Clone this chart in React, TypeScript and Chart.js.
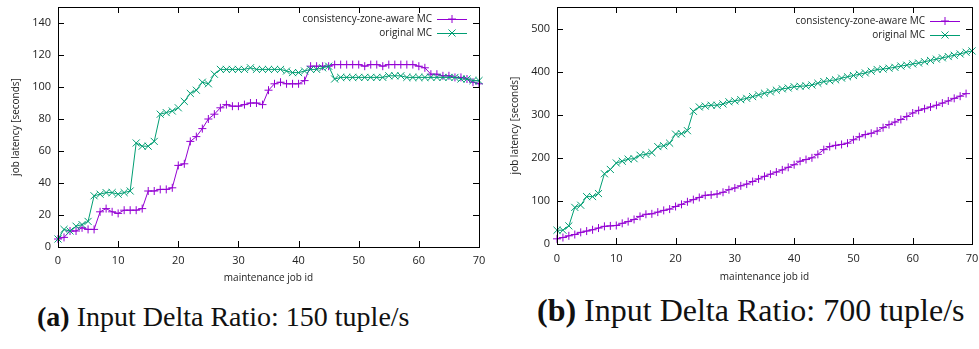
import React, { useEffect, useRef } from "react";
import { Chart, registerables } from "chart.js";

Chart.register(...registerables);

// ---------- data ----------
const X_TICKS = [0, 10, 20, 30, 40, 50, 60, 70];
const Y_TICKS_A = [0, 20, 40, 60, 80, 100, 120, 140];
const Y_TICKS_B = [0, 100, 200, 300, 400, 500];

const SERIES_NAMES = ["consistency-zone-aware MC", "original MC"];

// (a) Input Delta Ratio: 150 tuple/s
const AWARE_A = [
  5, 6, 10, 10, 12, 11, 11, 22, 24, 22,
  21, 23, 23, 23, 24, 35, 35, 36, 36, 37,
  51, 52, 66, 69, 74, 80, 83, 87, 89, 88,
  88, 89, 90, 90, 89, 98, 102, 103, 102, 102,
  102, 104, 113, 113, 113, 113, 114, 114, 114, 114,
  114, 113, 114, 114, 113, 114, 114, 114, 114, 114,
  113, 112, 108, 108, 107, 107, 106, 106, 105, 103,
  102,
];
const ORIGINAL_A = [
  5, 11, 10, 13, 14, 16, 32, 33, 34, 34,
  33, 34, 35, 65, 63, 63, 66, 83, 84, 85,
  87, 91, 96, 98, 103, 102, 108, 111, 111, 111,
  111, 111, 112, 111, 111, 111, 111, 111, 110, 109,
  109, 110, 111, 111, 112, 113, 105, 106, 106, 106,
  106, 106, 106, 106, 106, 107, 107, 107, 106, 106,
  106, 106, 106, 106, 106, 106, 106, 105, 105, 104,
  104,
];

// (b) Input Delta Ratio: 700 tuple/s
const AWARE_B = [
  12, 15, 19, 22, 27, 30, 33, 37, 41, 42,
  43, 48, 52, 57, 64, 69, 70, 74, 78, 81,
  87, 92, 98, 103, 108, 113, 114, 116, 120, 126,
  130, 135, 139, 145, 151, 157, 162, 167, 172, 178,
  184, 192, 196, 200, 208, 219, 226, 229, 231, 234,
  242, 249, 254, 257, 262, 270, 277, 283, 289, 296,
  304, 310, 314, 318, 322, 327, 332, 338, 343, 349,
];
const ORIGINAL_B = [
  32, 32, 42, 85, 90, 110, 110, 117, 163, 173,
  188, 192, 197, 198, 206, 208, 212, 226, 228, 234,
  255, 256, 263, 308, 318, 320, 322, 322, 325, 330,
  332, 335, 338, 342, 346, 350, 353, 357, 360, 362,
  365, 366, 367, 369, 373, 377, 379, 381, 385, 388,
  391, 394, 397, 401, 405, 406, 408, 410, 413, 415,
  418, 420, 423, 426, 429, 432, 435, 438, 441, 445,
  448,
];

const PURPLE = "#9400d3";
const GREEN = "#009e73";
const FONT = "'Open Sans', 'DejaVu Sans', sans-serif";

type PanelCfg = {
  aware: number[];
  original: number[];
  yMax: number;
  yTicks: number[];
  padding: { left: number; right: number; top: number; bottom: number };
  width: number;
  height: number;
  yTitleX: number;
  xTitleY: number;
  xLabelY: number;
  legendDy: number;
};

const toXY = (arr: number[]) => arr.map((v, i) => ({ x: i, y: v }));

function drawMarker(ctx: CanvasRenderingContext2D, style: string, x: number, y: number, r: number) {
  ctx.beginPath();
  if (style === "cross") {
    ctx.moveTo(x - r, y);
    ctx.lineTo(x + r, y);
    ctx.moveTo(x, y - r);
    ctx.lineTo(x, y + r);
  } else {
    const d = r * Math.SQRT1_2;
    ctx.moveTo(x - d, y - d);
    ctx.lineTo(x + d, y + d);
    ctx.moveTo(x - d, y + d);
    ctx.lineTo(x + d, y - d);
  }
  ctx.stroke();
}

function makeFramePlugin(cfg: PanelCfg) {
  return {
    id: "gnuplotFrame",
    afterDraw(chart: any) {
      const ctx: CanvasRenderingContext2D = chart.ctx;
      const { left, right, top, bottom } = chart.chartArea;
      const xs = chart.scales.x;
      const ys = chart.scales.y;
      ctx.save();
      // border
      ctx.strokeStyle = "#000";
      ctx.lineWidth = 1;
      ctx.strokeRect(Math.round(left) + 0.5, Math.round(top) + 0.5, Math.round(right - left), Math.round(bottom - top));
      // ticks (inward, mirrored)
      const tl = 6;
      ctx.beginPath();
      X_TICKS.forEach((t) => {
        const px = Math.round(xs.getPixelForValue(t)) + 0.5;
        ctx.moveTo(px, bottom);
        ctx.lineTo(px, bottom - tl);
        ctx.moveTo(px, top);
        ctx.lineTo(px, top + tl);
      });
      cfg.yTicks.forEach((t) => {
        const py = Math.round(ys.getPixelForValue(t)) + 0.5;
        ctx.moveTo(left, py);
        ctx.lineTo(left + tl, py);
        ctx.moveTo(right, py);
        ctx.lineTo(right - tl, py);
      });
      ctx.stroke();
      // tick labels
      ctx.fillStyle = "#222";
      ctx.font = `11px ${FONT}`;
      ctx.textAlign = "center";
      ctx.textBaseline = "middle";
      X_TICKS.forEach((t) => {
        ctx.fillText(String(t), xs.getPixelForValue(t), cfg.xLabelY);
      });
      ctx.textAlign = "right";
      cfg.yTicks.forEach((t) => {
        ctx.fillText(String(t), left - 7, ys.getPixelForValue(t));
      });
      // axis titles
      ctx.font = `10px ${FONT}`;
      ctx.textAlign = "center";
      ctx.fillText("maintenance job id", (left + right) / 2, cfg.xTitleY);
      ctx.save();
      ctx.translate(cfg.yTitleX, (top + bottom) / 2);
      ctx.rotate(-Math.PI / 2);
      ctx.fillText("job latency [seconds]", 0, 0);
      ctx.restore();
      // legend
      ctx.font = `10px ${FONT}`;
      ctx.textAlign = "right";
      const styles = ["cross", "crossRot"];
      const colors = [PURPLE, GREEN];
      SERIES_NAMES.forEach((name, i) => {
        const y = top + cfg.legendDy + i * 14;
        ctx.fillStyle = "#222";
        ctx.fillText(name, right - 47, y);
        ctx.strokeStyle = colors[i];
        ctx.lineWidth = 1;
        ctx.beginPath();
        ctx.moveTo(right - 42, y + 0.5);
        ctx.lineTo(right - 12, y + 0.5);
        ctx.stroke();
        drawMarker(ctx, styles[i], right - 27, y, i === 0 ? 4 : 5);
      });
      ctx.restore();
    },
  };
}

function Panel({ cfg }: { cfg: PanelCfg }) {
  const ref = useRef<HTMLCanvasElement | null>(null);
  useEffect(() => {
    if (!ref.current) return;
    const chart = new Chart(ref.current, {
      type: "line",
      data: {
        datasets: [
          {
            label: SERIES_NAMES[0],
            data: toXY(cfg.aware),
            borderColor: PURPLE,
            backgroundColor: PURPLE,
            borderWidth: 1,
            pointStyle: "cross",
            pointRadius: 4,
            pointBorderWidth: 1,
            pointBorderColor: PURPLE,
            tension: 0,
            clip: false,
            order: 2,
          } as any,
          {
            label: SERIES_NAMES[1],
            data: toXY(cfg.original),
            borderColor: GREEN,
            backgroundColor: GREEN,
            borderWidth: 1,
            pointStyle: "crossRot",
            pointRadius: 5,
            pointBorderWidth: 1,
            pointBorderColor: GREEN,
            tension: 0,
            clip: false,
            order: 1,
          } as any,
        ],
      },
      options: {
        animation: false,
        responsive: false,
        devicePixelRatio: 1,
        layout: { padding: cfg.padding },
        plugins: { legend: { display: false }, tooltip: { enabled: false } },
        scales: {
          x: { type: "linear", min: 0, max: 70, display: false },
          y: { type: "linear", min: 0, max: cfg.yMax, display: false },
        },
      },
      plugins: [makeFramePlugin(cfg)],
    });
    return () => chart.destroy();
  }, [cfg]);
  return <canvas ref={ref} width={cfg.width} height={cfg.height} style={{ display: "block", width: cfg.width, height: cfg.height }} />;
}

const CFG_A: PanelCfg = {
  aware: AWARE_A,
  original: ORIGINAL_A,
  yMax: 150,
  yTicks: Y_TICKS_A,
  padding: { left: 58, right: 11, top: 7, bottom: 38 },
  width: 490,
  height: 285,
  yTitleX: 16,
  xTitleY: 278,
  xLabelY: 261,
  legendDy: 12,
};
const CFG_B: PanelCfg = {
  aware: AWARE_B,
  original: ORIGINAL_B,
  yMax: 550,
  yTicks: Y_TICKS_B,
  padding: { left: 67, right: 7, top: 7, bottom: 41 },
  width: 489,
  height: 285,
  yTitleX: 25,
  xTitleY: 277,
  xLabelY: 259,
  legendDy: 14,
};

const captionStyle: React.CSSProperties = {
  position: "absolute",
  fontFamily: "'Liberation Serif', 'DejaVu Serif', serif",
  color: "#111",
  whiteSpace: "nowrap",
  lineHeight: 1.15,
};

export default function App() {
  return (
    <div style={{ position: "absolute", left: 0, top: 0, width: 979, height: 349, background: "#fff", overflow: "hidden" }}>
      <div style={{ position: "absolute", left: 0, top: 0 }}>
        <Panel cfg={CFG_A} />
      </div>
      <div style={{ position: "absolute", left: 490, top: 0 }}>
        <Panel cfg={CFG_B} />
      </div>
      <div style={{ ...captionStyle, left: 37, top: 301, fontSize: 28 }}>
        <b>(a)</b> Input Delta Ratio: 150 tuple/s
      </div>
      <div style={{ ...captionStyle, left: 537, top: 292, fontSize: 32 }}>
        <b>(b)</b> Input Delta Ratio: 700 tuple/s
      </div>
    </div>
  );
}
